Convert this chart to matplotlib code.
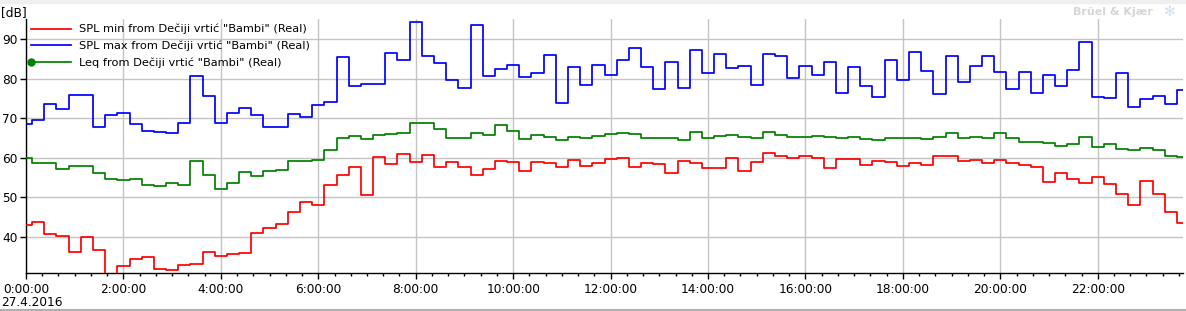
import matplotlib
matplotlib.use("Agg")
import matplotlib.pyplot as plt
import matplotlib.dates as mdates
from matplotlib.ticker import FuncFormatter, FixedLocator
from matplotlib.lines import Line2D
import pandas as pd

# ---------------- data ----------------
start = "2016-04-27 00:00:00"
times = pd.date_range(start, periods=96, freq="15min")

spl_min = [43.0, 43.8, 40.8, 40.2, 36.2, 40.0, 36.8, 30.0, 32.6, 34.4,
           35.0, 31.9, 31.6, 32.8, 33.2, 36.2, 35.2, 35.7, 36.0, 41.0,
           42.4, 43.3, 46.3, 48.9, 48.1, 53.1, 55.7, 57.7, 50.5, 60.2,
           58.4, 61.0, 58.9, 60.7, 57.7, 58.9, 57.7, 55.7, 57.2, 59.2,
           58.9, 56.7, 58.9, 58.7, 57.7, 59.4, 57.9, 58.7, 59.7, 60.0,
           57.7, 58.7, 58.4, 56.2, 59.2, 58.7, 57.4, 57.4, 60.0, 56.7,
           58.9, 61.2, 60.5, 60.0, 60.5, 60.0, 57.4, 59.7, 59.7, 58.2,
           59.2, 58.9, 57.9, 58.7, 58.2, 60.5, 60.5, 59.2, 59.4, 58.7,
           59.4, 58.7, 58.2, 57.7, 53.9, 56.2, 54.6, 53.6, 55.2, 53.4,
           50.9, 48.1, 54.1, 50.9, 46.3, 43.5]

spl_max = [68.5, 69.5, 73.6, 72.3, 75.9, 75.9, 67.8, 70.8, 71.3, 68.5,
           66.8, 66.5, 66.3, 68.8, 80.7, 75.6, 68.8, 71.3, 72.6, 70.8,
           67.8, 67.8, 71.1, 70.3, 73.3, 74.1, 85.5, 78.1, 78.6, 78.6,
           86.5, 84.7, 94.3, 85.7, 84.0, 79.6, 77.6, 93.5, 80.7, 82.5,
           83.4, 80.4, 81.5, 86.0, 73.8, 82.9, 78.4, 83.4, 80.9, 84.7,
           87.7, 82.9, 77.4, 84.3, 77.6, 87.3, 81.5, 86.3, 82.7, 83.2,
           78.4, 86.3, 85.7, 80.2, 83.2, 80.9, 84.2, 76.4, 82.9, 78.1,
           75.4, 84.7, 79.6, 86.7, 81.9, 76.1, 85.7, 79.1, 83.2, 85.7,
           81.7, 77.4, 81.7, 76.4, 80.9, 78.1, 82.2, 89.2, 75.4, 75.1,
           81.4, 72.8, 74.8, 75.6, 73.6, 77.1]

leq = [60.0, 58.7, 58.7, 57.2, 57.9, 57.9, 56.2, 54.6, 54.4, 54.6,
       53.1, 52.9, 53.6, 53.1, 59.2, 55.7, 52.1, 53.6, 56.4, 55.4,
       56.7, 56.9, 59.2, 59.2, 59.4, 62.0, 65.0, 65.5, 64.7, 65.8,
       66.0, 66.3, 68.8, 68.8, 67.4, 65.1, 65.1, 66.3, 65.8, 68.3,
       66.9, 64.7, 65.8, 65.4, 64.5, 65.3, 65.1, 65.6, 66.0, 66.3,
       66.0, 65.1, 65.1, 65.1, 64.5, 66.5, 65.1, 65.6, 65.8, 65.4,
       65.1, 66.5, 65.8, 65.3, 65.3, 65.5, 65.3, 65.1, 65.3, 64.7,
       64.5, 65.0, 65.0, 65.0, 64.7, 65.3, 66.3, 65.1, 65.3, 65.0,
       66.3, 65.1, 64.0, 64.0, 63.7, 63.0, 63.5, 65.3, 62.7, 63.5,
       62.2, 62.0, 62.5, 62.0, 60.5, 60.2]

labels = ['SPL min from Dečiji vrtić "Bambi" (Real)',
          'SPL max from Dečiji vrtić "Bambi" (Real)',
          'Leq from Dečiji vrtić "Bambi" (Real)']
colors = ["#ff0000", "#0000ff", "#008000"]
y_ticks = [40, 50, 60, 70, 80, 90]
date_label = "27.4.2016"
y_unit = "[dB]"

# ---------------- figure ----------------
plt.rcParams["font.family"] = ["DejaVu Sans"]
W, H = 1186, 311
fig = plt.figure(figsize=(W / 100, H / 100), dpi=100)
L, R, T, B = 26, 1183, 19, 273
ax = fig.add_axes([L / W, 1 - B / H, (R - L) / W, (B - T) / H])

for vals, c in zip([spl_min, spl_max, leq], colors):
    ax.plot(times, vals, drawstyle="steps-mid", color=c, lw=1.25, zorder=3)

x0 = pd.Timestamp(start)
ax.set_xlim(x0, x0 + pd.Timedelta(minutes=23 * 60 + 45))
ax.set_ylim(30.9, 95.1)

ax.xaxis.set_major_locator(mdates.HourLocator(byhour=range(0, 24, 2)))
ax.xaxis.set_minor_locator(mdates.MinuteLocator(byminute=[0, 20, 40]))
ax.xaxis.set_major_formatter(FuncFormatter(
    lambda v, p: (lambda d: f"{d.hour}:{d.minute:02d}:{d.second:02d}")(mdates.num2date(v))))
ax.yaxis.set_major_locator(FixedLocator(y_ticks))

ax.grid(True, which="major", color="#c4c4c4", lw=1.0, zorder=0)
for s in ["top", "right"]:
    ax.spines[s].set_visible(False)
for s in ["left", "bottom"]:
    ax.spines[s].set_color("black")
    ax.spines[s].set_linewidth(1.0)

ax.tick_params(axis="both", which="major", length=4, width=1, color="black",
               labelsize=8.7, labelcolor="black", pad=2)
ax.tick_params(axis="x", which="minor", length=2.5, width=1, color="black")
ax.tick_params(axis="x", which="major", pad=3)

fig.text(1 / W, 1 - 13 / H, y_unit, fontsize=8.7, va="center", ha="left")
fig.text(1 / W, 1 - 302 / H, date_label, fontsize=8.7, va="center", ha="left")

# watermark
fig.text(1153 / W, 1 - 12 / H, "Brüel & Kjær", fontsize=8, fontweight="bold",
         color="#d6d6d6", ha="right", va="center")
fig.text(1170 / W, 1 - 12 / H, "✻", fontsize=10, color="#cfe0f7",
         ha="center", va="center")

# frame decorations of the screenshot
fig.patches.append(plt.Rectangle((0, 1 - 3 / H), 1, 3 / H, transform=fig.transFigure,
                                 color="#efefef", zorder=0))
fig.lines.append(Line2D([0, 1], [1 - 309.5 / H] * 2, transform=fig.transFigure,
                        color="#b0b0b0", lw=1.5))

handles = [Line2D([0, 1], [0, 0], color=colors[0], lw=1.25),
           Line2D([0, 1], [0, 0], color=colors[1], lw=1.25),
           Line2D([0, 1], [0, 0], color=colors[2], lw=1.25, marker="o",
                  markersize=5)]
leg = ax.legend(handles, labels, loc="upper left",
                bbox_to_anchor=((28 - L) / (R - L), 1 - (24 - T) / (B - T)),
                frameon=False, fontsize=8.2, handlelength=4.1, handletextpad=0.35,
                labelspacing=0.56, borderpad=0, borderaxespad=0, numpoints=2)
for h in leg.legend_handles:
    h.set_markevery([0])

fig.savefig("out.png", dpi=100, facecolor="white")
